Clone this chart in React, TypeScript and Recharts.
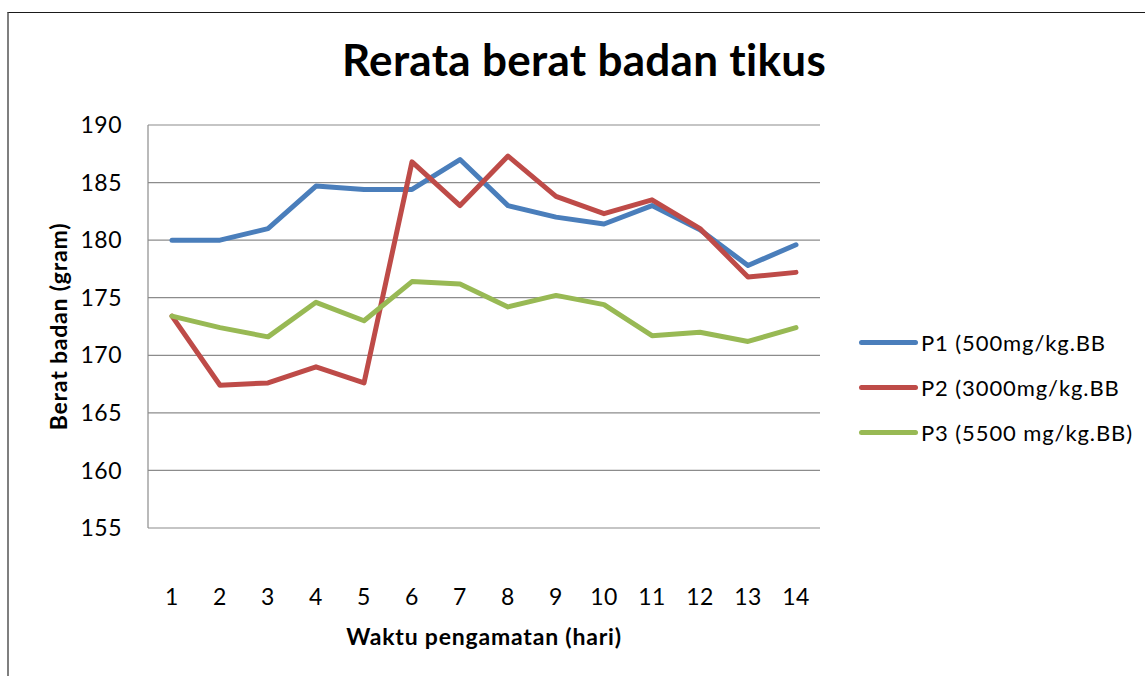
import { CartesianGrid, Line, LineChart, XAxis, YAxis } from "recharts";

const days = ["1", "2", "3", "4", "5", "6", "7", "8", "9", "10", "11", "12", "13", "14"];
const p1 = [180, 180, 181, 184.7, 184.4, 184.4, 187, 183, 182, 181.4, 183, 180.9, 177.8, 179.6];
const p2 = [173.4, 167.4, 167.6, 169, 167.6, 186.8, 183, 187.3, 183.8, 182.3, 183.5, 181, 176.8, 177.2];
const p3 = [173.4, 172.4, 171.6, 174.6, 173, 176.4, 176.2, 174.2, 175.2, 174.4, 171.7, 172, 171.2, 172.4];
const yTicks = [155, 160, 165, 170, 175, 180, 185, 190];

const seriesInfo = [
  { key: "p1", name: "P1 (500mg/kg.BB", color: "#4a7ebb" },
  { key: "p2", name: "P2 (3000mg/kg.BB", color: "#be4b48" },
  { key: "p3", name: "P3 (5500 mg/kg.BB)", color: "#98b954" },
];

const data = days.map((day, i) => ({ day, p1: p1[i], p2: p2[i], p3: p3[i] }));

const font = "Lato, 'Open Sans', sans-serif";

function LegendBox() {
  return (
    <div
      style={{
        position: "absolute",
        left: 859,
        top: 320,
        fontFamily: font,
        fontSize: 22,
        letterSpacing: 0.9,
        color: "#000",
        whiteSpace: "nowrap",
      }}
    >
      {seriesInfo.map((s) => (
        <div key={s.key} style={{ display: "flex", alignItems: "center", height: 45 }}>
          <div style={{ width: 59, height: 5, borderRadius: 3, background: s.color, marginRight: 3 }} />
          <span>{s.name}</span>
        </div>
      ))}
    </div>
  );
}

export default function App() {
  return (
    <div style={{ position: "absolute", left: 0, top: 0, width: 1145, height: 676, background: "#fff", overflow: "hidden" }}>
      <div
        style={{
          position: "absolute",
          left: 7,
          top: 12,
          width: 1200,
          height: 700,
          borderTop: "1px solid #1a1a1a",
          borderLeft: "2px solid #7f7f7f",
        }}
      />
      <div
        style={{
          position: "absolute",
          left: 0,
          width: 1168,
          top: 33,
          textAlign: "center",
          fontFamily: font,
          fontWeight: 700,
          fontSize: 44,
          letterSpacing: 0.3,
          color: "#000",
        }}
      >
        Rerata berat badan tikus
      </div>
      <LineChart
        width={1145}
        height={676}
        data={data}
        margin={{ top: 125, right: 325, bottom: 48, left: 88 }}
        style={{ position: "absolute", left: 0, top: 0 }}
      >
        <CartesianGrid vertical={false} stroke="#8c8c8c" strokeWidth={1.2} />
        <XAxis
          dataKey="day"
          height={100}
          padding={{ left: 24, right: 24 }}
          axisLine={false}
          tickLine={false}
          tickSize={0}
          tickMargin={0}
          interval={0}
          tick={({ x, y, payload }: any) => (
            <text x={x} y={y + 77} textAnchor="middle" fontFamily={font} fontSize={23} letterSpacing={0.5} fill="#000">
              {payload.value}
            </text>
          )}
          label={{
            content: ({ viewBox }: any) => (
              <text
                x={viewBox.x + viewBox.width / 2}
                y={645}
                textAnchor="middle"
                fontFamily={font}
                fontWeight={700}
                fontSize={23}
                letterSpacing={0.8}
                fill="#000"
              >
                Waktu pengamatan (hari)
              </text>
            ),
          }}
        />
        <YAxis
          width={60}
          domain={[155, 190]}
          ticks={yTicks}
          interval={0}
          axisLine={{ stroke: "#8c8c8c", strokeWidth: 1.2 }}
          tickLine={false}
          tickSize={0}
          tickMargin={26}
          tick={{ fontFamily: font, fontSize: 23, letterSpacing: 0.5, fill: "#000" }}
          label={{
            content: ({ viewBox }: any) => {
              const cy = viewBox.y + viewBox.height / 2;
              return (
                <text
                  x={67}
                  y={cy}
                  transform={`rotate(-90 67 ${cy})`}
                  textAnchor="middle"
                  fontFamily={font}
                  fontWeight={700}
                  fontSize={23}
                  letterSpacing={0.8}
                  fill="#000"
                >
                  Berat badan (gram)
                </text>
              );
            },
          }}
        />
        {seriesInfo.map((s) => (
          <Line
            key={s.key}
            dataKey={s.key}
            name={s.name}
            type="linear"
            stroke={s.color}
            strokeWidth={5}
            strokeLinecap="round"
            strokeLinejoin="round"
            dot={false}
            activeDot={false}
            isAnimationActive={false}
          />
        ))}
      </LineChart>
      <LegendBox />
    </div>
  );
}
